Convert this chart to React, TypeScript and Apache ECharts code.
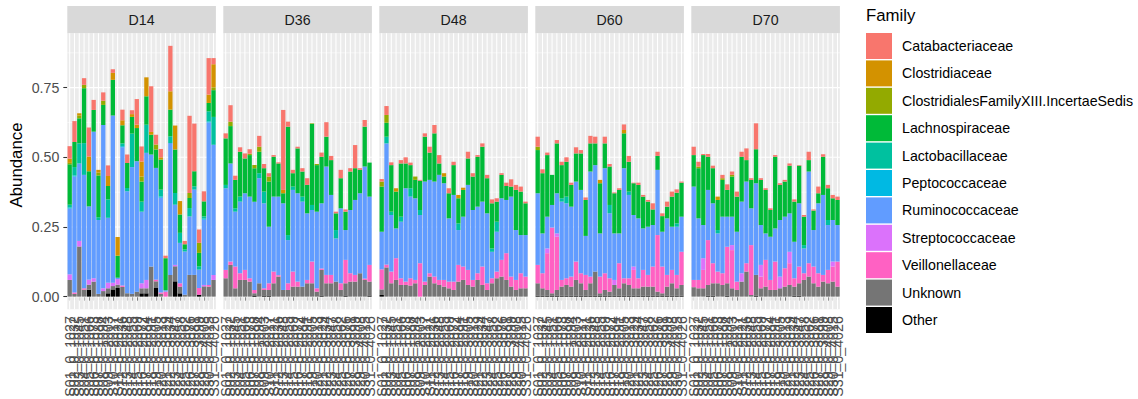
import React, { useEffect, useRef } from "react";
import * as echarts from "echarts";

// Sampling days (one facet each) and the sample ids shared on every facet's x axis
const days = ["D14", "D36", "D48", "D60", "D70"];
const samples = [
  "S01_0_1027", "S02_0_1032", "S03_0_1045", "S04_0_1051", "S05_0_1066",
  "S06_0_1073", "S07_0_1088", "S08_0_1094", "S09_0_2003", "S10_0_2017",
  "S11_0_2021", "S12_0_2036", "S13_0_2048", "S14_0_2055", "S15_0_2069",
  "S16_0_2072", "S17_0_2084", "S18_0_2091", "S19_0_3005", "S20_0_3013",
  "S21_0_3029", "S22_0_3034", "S23_0_3047", "S24_0_3058", "S25_0_3062",
  "S26_0_3076", "S27_0_3081", "S28_0_3099", "S29_0_4008", "S30_0_4015",
  "S31_0_4026",
];

// Legend order (top to bottom); stacking is the reverse (Other at the bottom)
const families = [
  "Catabacteriaceae",
  "Clostridiaceae",
  "ClostridialesFamilyXIII.IncertaeSedis",
  "Lachnospiraceae",
  "Lactobacillaceae",
  "Peptococcaceae",
  "Ruminococcaceae",
  "Streptococcaceae",
  "Veillonellaceae",
  "Unknown",
  "Other",
];
const familyColors = [
  "#F8766D", "#D39200", "#93AA00", "#00BA38", "#00C19F", "#00B9E3",
  "#619CFF", "#DB72FB", "#FF61C3", "#757575", "#000000",
];

// Relative abundance, one row per day (D14, D36, D48, D60, D70), 31 samples per row
const catabacteriaceae = [
  [.045, .075, 0, .024, .104, .036, 0, .03, .038, .013, 0, .038, .03, .014, .092, .054, 0, .164, .035, .03, .009, .163, 0, 0, .012, .277, .171, .048, .036, .131, .022],
  [.018, .059, .015, .016, .018, .016, 0, .039, .015, .012, .006, .004, .287, .018, .012, .006, .012, .024, 0, 0, .015, .052, .015, .006, .03, .008, .012, .083, .006, .024, 0],
  [.009, .032, .01, 0, .012, .022, .009, 0, .003, .012, .021, .03, .03, 0, .018, .012, 0, 0, .024, .012, .006, .012, .012, .014, .012, .006, .012, .026, .018, .018, .006],
  [.036, .014, .009, 0, .012, .012, .016, .008, .022, .012, .009, .027, .024, 0, .024, .009, .003, .006, .02, .021, .002, .008, .006, .006, .022, .015, .01, .018, .018, .012, .004],
  [.03, .017, .004, .01, .009, 0, .012, .02, .012, .018, .018, .042, .006, .093, .006, .006, .006, .006, .006, .006, .008, .008, .002, .006, .03, .004, .024, .009, .012, .012, .012],
];
const clostridiaceae = [
  [.015, 0, .008, 0, .053, 0, .01, 0, .036, .025, .067, .018, 0, .01, .012, .054, .068, .01, 0, .008, 0, .066, .086, .048, 0, 0, 0, 0, 0, .03, .083],
  [0, 0, 0, 0, 0, 0, 0, 0, 0, 0, 0, 0, .012, 0, 0, 0, 0, 0, 0, 0, 0, 0, 0, 0, 0, 0, 0, 0, 0, 0, 0],
  [0, 0, 0, .012, 0, 0, 0, 0, 0, 0, 0, 0, 0, .012, 0, 0, .012, .008, 0, 0, 0, 0, 0, 0, 0, 0, 0, 0, 0, 0, 0],
  [0, 0, 0, 0, 0, 0, 0, 0, 0, 0, 0, 0, 0, .012, 0, 0, 0, 0, .012, 0, 0, 0, 0, 0, 0, 0, 0, 0, 0, 0, 0],
  [0, 0, 0, 0, 0, .012, 0, 0, 0, 0, 0, 0, 0, 0, 0, 0, 0, 0, 0, 0, 0, 0, 0, 0, 0, 0, 0, 0, 0, 0, 0],
];
const clostridialesXIII = [
  [.005, 0, .01, .012, 0, 0, .01, .015, 0, 0, 0, 0, 0, 0, 0, .018, 0, 0, .018, 0, 0, 0, 0, 0, 0, .018, 0, .036, 0, 0, .01],
  [0, .016, 0, 0, 0, .005, .011, .018, 0, .018, 0, 0, 0, 0, 0, 0, 0, 0, .002, .004, 0, 0, 0, 0, 0, 0, 0, 0, 0, 0, 0],
  [.018, .028, 0, 0, 0, 0, 0, .012, 0, 0, 0, 0, 0, 0, 0, 0, 0, 0, 0, 0, 0, 0, 0, 0, 0, 0, 0, 0, 0, 0, 0],
  [.012, 0, 0, 0, 0, 0, 0, 0, 0, 0, 0, 0, 0, 0, 0, 0, 0, 0, 0, 0, 0, 0, 0, 0, 0, 0, 0, 0, 0, 0, 0],
  [0, .006, 0, 0, 0, 0, .006, 0, .006, 0, 0, 0, 0, 0, 0, 0, 0, 0, 0, 0, 0, 0, 0, 0, 0, 0, 0, 0, 0, 0, 0],
];
const lachnospiraceae = [
  [.145, .09, .09, .197, .126, .078, .15, .072, .048, .128, .079, .065, .09, .06, .119, .072, .102, .071, .066, .108, .115, .096, .156, .066, .018, .036, .054, .048, .054, .03, .096],
  [.167, .134, .102, .161, .125, .149, .12, .077, .084, .162, .143, .119, .036, .389, .048, .161, .09, .102, .291, .167, .167, .107, .125, .06, .108, .066, .138, .114, .084, .143, .122],
  [.162, .05, .167, .132, .191, .089, .083, .066, .105, .161, .098, .173, .041, .024, .09, .107, .09, .096, .095, .12, .179, .197, .126, .162, .072, .084, .05, .036, .144, .156, .114],
  [.155, .216, .221, .108, .179, .119, .125, .078, .101, .131, .129, .101, .078, .18, .089, .138, .144, .156, .125, .107, .114, .12, .114, .09, .056, .05, .056, .042, .108, .11, .122],
  [.113, .18, .251, .119, .126, .108, .132, .096, .144, .126, .161, .077, .102, .122, .162, .156, .096, .257, .126, .126, .171, .144, .135, .102, .041, .07, .036, .137, .114, .078, .09],
];
const lactobacillaceae = [
  [.01, .03, .072, .114, 0, 0, .01, 0, .066, 0, 0, .01, .012, .12, 0, .036, .101, 0, 0, .024, 0, .024, .042, .036, .008, .03, .012, .012, .008, .036, .1],
  [.012, 0, .012, .018, 0, 0, 0, .018, .042, 0, 0, 0, 0, .018, .012, 0, .018, 0, .018, 0, 0, 0, 0, .03, 0, 0, 0, 0, 0, 0, 0],
  [0, .024, .012, 0, .018, 0, .03, 0, .018, 0, 0, 0, 0, 0, 0, 0, .024, 0, 0, 0, 0, 0, 0, .012, .036, 0, 0, 0, 0, 0, 0],
  [0, 0, 0, 0, 0, .012, .024, 0, 0, 0, 0, 0, 0, 0, 0, .03, 0, 0, 0, .012, 0, 0, 0, 0, 0, 0, 0, 0, 0, .012, 0],
  [0, 0, 0, 0, 0, .012, 0, 0, 0, 0, 0, 0, 0, 0, 0, 0, 0, 0, 0, 0, 0, 0, 0, .012, 0, 0, 0, 0, .018, 0, 0],
];
const peptococcaceae = [
  [.004, .004, 0, 0, 0, 0, 0, 0, 0, 0, 0, .004, 0, 0, 0, 0, 0, 0, 0, .005, 0, 0, 0, 0, 0, 0, 0, 0, .004, .004, 0],
  [0, 0, 0, 0, 0, 0, 0, 0, 0, 0, 0, 0, 0, 0, 0, 0, 0, 0, 0, 0, 0, 0, 0, 0, 0, 0, 0, 0, 0, 0, 0],
  [0, 0, 0, 0, 0, 0, 0, 0, 0, 0, 0, 0, 0, 0, 0, 0, 0, 0, 0, 0, 0, 0, 0, 0, 0, 0, 0, 0, 0, 0, 0],
  [0, 0, 0, 0, 0, 0, 0, 0, 0, 0, 0, 0, 0, 0, 0, 0, 0, 0, 0, 0, 0, 0, 0, 0, 0, 0, 0, 0, 0, 0, 0],
  [0, 0, 0, 0, 0, 0, 0, 0, 0, 0, 0, 0, 0, 0, 0, 0, 0, 0, 0, 0, 0, 0, 0, 0, 0, 0, 0, 0, 0, 0, 0],
];
const ruminococcaceae = [
  [.236, .416, .278, .407, .263, .526, .265, .586, .233, .6, .005, .496, .366, .455, .468, .257, .456, .402, .401, .34, .005, .473, .216, .145, .155, .21, .306, .066, .234, .583, .467],
  [.293, .352, .197, .257, .275, .293, .317, .377, .305, .203, .269, .282, .311, .155, .293, .317, .305, .239, .185, .275, .234, .389, .287, .155, .269, .107, .227, .269, .287, .402, .245],
  [.135, .435, .203, .107, .203, .335, .293, .293, .173, .359, .335, .341, .377, .347, .227, .311, .125, .179, .305, .251, .239, .233, .251, .095, .143, .221, .191, .287, .179, .137, .149],
  [.257, .143, .114, .081, .144, .281, .269, .251, .287, .299, .14, .377, .382, .155, .377, .233, .167, .107, .395, .299, .185, .215, .149, .173, .149, .234, .125, .203, .155, .173, .126],
  [.335, .221, .119, .18, .215, .137, .203, .108, .102, .179, .257, .293, .132, .329, .143, .095, .155, .119, .203, .185, .138, .131, .227, .089, .329, .131, .251, .287, .161, .149, .131],
];
const streptococcaceae = [
  [.02, 0, .02, 0, .018, .012, 0, .01, .02, .012, .02, 0, 0, 0, 0, .018, .03, 0, 0, 0, 0, 0, .005, 0, 0, 0, 0, 0, .005, 0, .018],
  [0, 0, 0, 0, 0, 0, 0, 0, 0, 0, 0, 0, 0, 0, 0, 0, 0, 0, 0, 0, 0, 0, 0, 0, 0, 0, 0, 0, 0, 0, 0],
  [0, 0, 0, 0, 0, 0, 0, 0, 0, 0, 0, 0, 0, 0, 0, 0, 0, 0, 0, 0, 0, 0, 0, 0, 0, 0, 0, 0, 0, 0, 0],
  [0, 0, .017, 0, .012, 0, 0, 0, 0, 0, 0, 0, 0, 0, 0, 0, .018, 0, 0, 0, .012, 0, 0, 0, 0, 0, 0, 0, 0, 0, 0],
  [0, 0, .042, 0, 0, 0, 0, 0, .018, 0, .03, 0, 0, 0, .042, 0, 0, 0, .042, 0, .041, 0, 0, 0, 0, 0, 0, 0, 0, .018, 0],
];
const veillonellaceae = [
  [0, .005, 0, .005, 0, 0, 0, 0, 0, 0, 0, .005, 0, 0, 0, 0, 0, 0, .006, .005, .018, 0, 0, .012, 0, 0, 0, .024, 0, .006, 0],
  [.03, .012, .078, .024, .036, .012, .012, 0, .006, .024, .042, .005, 0, .024, .054, .018, 0, .012, .078, .012, .005, .03, .03, 0, .024, .084, .03, .024, 0, .005, .06],
  [.072, .01, .042, .078, .024, .012, .026, .012, .12, .012, .012, .024, .018, .024, .024, .03, .06, .048, .054, .024, .024, .066, .024, .018, .024, .06, .096, .036, .036, .054, .042],
  [.066, .054, .132, .236, .191, .024, .024, .036, .066, .036, .054, .024, 0, .06, .06, .048, 0, .09, .018, .024, .066, .036, .06, .042, .072, .203, .096, .042, .048, .048, .119],
  [.026, .03, .066, .161, .072, .042, .042, .131, .137, .03, 0, .03, .179, 0, .042, .096, .036, .102, 0, .066, .078, .03, .06, .024, .048, .06, .048, .024, .048, .054, .09],
];
const unknown = [
  [.06, .01, .18, .025, .018, .054, .01, .02, .018, .012, .012, .035, .012, .01, .018, .018, .018, .108, .024, .01, 0, .078, .054, .024, .007, .078, .078, 0, .037, .036, .06],
  [.066, .114, .03, .06, .06, .054, .008, .048, .02, .02, .048, .072, .024, .024, .036, .036, .036, .048, .048, .018, .092, .048, .048, .054, .024, .044, .054, .054, .084, .06, .05],
  [.02, .105, .048, .06, .042, .042, .04, .048, 0, .042, .072, .048, .042, .036, .03, .024, .054, .06, .042, .036, .06, .042, .024, .048, .066, .072, .06, .036, .024, .03, .03],
  [.045, .027, .021, .009, .021, .033, .039, .033, .057, .045, .021, .045, .087, .009, .021, .015, .039, .027, .045, .039, .027, .027, .033, .033, .033, .015, .009, .033, .045, .027, .039],
  [.034, .03, .03, .039, .045, .048, .042, .045, .03, .024, .054, .09, .006, .075, .03, .036, .024, .024, .03, .036, .042, .033, .045, .06, .072, .048, .036, .054, .048, .054, .036],
];
const other = [
  [0, 0, 0, 0, .025, 0, 0, 0, .012, .026, .031, 0, 0, 0, 0, .012, .012, 0, .031, 0, 0, 0, .055, .012, 0, 0, 0, .007, 0, 0, 0],
  [0, 0, 0, 0, 0, 0, .004, 0, .004, .004, 0, 0, 0, 0, 0, 0, 0, 0, 0, 0, .004, 0, 0, 0, 0, .004, 0, 0, 0, 0, .004],
  [.006, 0, 0, 0, 0, 0, 0, 0, 0, 0, 0, 0, 0, 0, 0, 0, 0, 0, 0, 0, 0, 0, 0, 0, 0, 0, 0, 0, 0, 0, 0],
  [.003, .003, .003, .003, .003, .003, .003, .003, .003, .003, .003, .003, .003, .003, .003, .003, .003, .003, .003, .003, .003, .003, .003, .003, .003, .003, .003, .003, .003, .003, .003],
  [0, 0, 0, .003, .003, 0, 0, .003, 0, 0, 0, 0, 0, .003, 0, 0, 0, 0, 0, 0, 0, .003, .003, 0, 0, 0, 0, 0, 0, 0, 0],
];

// Same order as `families`
const familyValues = [
  catabacteriaceae, clostridiaceae, clostridialesXIII, lachnospiraceae, lactobacillaceae,
  peptococcaceae, ruminococcaceae, streptococcaceae, veillonellaceae, unknown, other,
];

const yBreaks = [0, 0.25, 0.5, 0.75];
const yMinorBreaks = [0.125, 0.375, 0.625, 0.875];
const yMax = 0.945;
const yExpandBelow = 0.045; // panel padding below zero, in data units

// Layout (pixels)
const FONT = "'Liberation Sans', Arial, Helvetica, sans-serif";
const PANEL_X0 = 67.3;
const PANEL_STEP = 156;
const PANEL_W = 148.6;
const PANEL_TOP = 33.3;
const PANEL_H = 275.9;
const PLOT_H = (PANEL_H * yMax) / (yMax + yExpandBelow); // part of the panel above zero
const BELOW_H = PANEL_H - PLOT_H;
const STRIP_TOP = 6;
const STRIP_H = PANEL_TOP - STRIP_TOP;
const PANEL_BG = "#EBEBEB";

function buildOption() {
  const grids: any[] = [];
  const xAxes: any[] = [];
  const yAxes: any[] = [];
  const series: any[] = [];
  const graphics: any[] = [];

  days.forEach((day, k) => {
    const left = PANEL_X0 + k * PANEL_STEP;
    grids.push({
      left,
      top: PANEL_TOP,
      width: PANEL_W,
      height: PLOT_H,
      show: true,
      backgroundColor: PANEL_BG,
      borderWidth: 0,
      containLabel: false,
      outerBoundsMode: "none",
    });
    xAxes.push({
      type: "category",
      gridIndex: k,
      data: samples,
      offset: BELOW_H,
      axisLine: { show: false },
      axisTick: {
        show: true,
        alignWithLabel: true,
        interval: 0,
        length: 4,
        lineStyle: { color: "#333333", width: 1.07 },
      },
      axisLabel: {
        interval: 0,
        rotate: 90,
        margin: 7,
        fontSize: 14.2,
        color: "#4D4D4D",
        fontFamily: FONT,
      },
      splitLine: { show: false },
    });
    if (k === 0) {
      yAxes.push({
        type: "value",
        gridIndex: k,
        min: 0,
        max: yMax,
        name: "Abundance",
        nameLocation: "middle",
        nameRotate: 90,
        nameGap: 42,
        nameTextStyle: { fontSize: 16.8, color: "#000000", fontFamily: FONT },
        axisLine: { show: false },
        axisTick: {
          show: true,
          customValues: yBreaks,
          length: 4,
          lineStyle: { color: "#333333", width: 1.07 },
        },
        axisLabel: {
          customValues: yBreaks,
          margin: 8,
          fontSize: 14.2,
          color: "#4D4D4D",
          fontFamily: FONT,
          formatter: (v: number) => (yBreaks.some((b) => Math.abs(b - v) < 1e-9) ? v.toFixed(2) : ""),
        },
        splitLine: { show: false },
      });
    } else {
      yAxes.push({
        type: "value",
        gridIndex: k,
        min: 0,
        max: yMax,
        show: false,
        splitLine: { show: false },
      });
    }

    // panel padding below zero
    graphics.push({
      type: "rect",
      silent: true,
      z: 0,
      shape: { x: left, y: PANEL_TOP + PLOT_H, width: PANEL_W, height: BELOW_H },
      style: { fill: PANEL_BG },
    });

    // panel grid lines (drawn beneath the bars)
    const gridData: number[][] = [
      ...yBreaks.map((v) => [0, v, 1]),
      ...yMinorBreaks.map((v) => [0, v, 0]),
      ...samples.map((_, i) => [i, 0, 2]),
    ];
    series.push({
      type: "custom",
      name: "panel-grid-" + day,
      xAxisIndex: k,
      yAxisIndex: k,
      z: 1,
      silent: true,
      clip: false,
      data: gridData,
      encode: { x: 0, y: 1 },
      renderItem: (params: any, api: any) => {
        const cs = params.coordSys;
        const kind = api.value(2);
        if (kind === 2) {
          const p = api.coord([api.value(0), 0]);
          return {
            type: "line",
            shape: { x1: p[0], y1: cs.y, x2: p[0], y2: cs.y + cs.height + BELOW_H },
            style: { stroke: "#FFFFFF", lineWidth: 1.07 },
          };
        }
        const p = api.coord([0, api.value(1)]);
        return {
          type: "line",
          shape: { x1: cs.x, y1: p[1], x2: cs.x + cs.width, y2: p[1] },
          style: { stroke: "#FFFFFF", lineWidth: kind === 1 ? 1.07 : 0.53 },
        };
      },
    });

    // stacked bars: bottom of the stack first
    for (let f = families.length - 1; f >= 0; f--) {
      series.push({
        type: "bar",
        name: families[f],
        xAxisIndex: k,
        yAxisIndex: k,
        stack: "abundance-" + day,
        barCategoryGap: "10%",
        z: 2,
        data: familyValues[f][k],
        itemStyle: { color: familyColors[f], borderWidth: 0 },
        emphasis: { disabled: true },
        silent: true,
      });
    }

    // facet strip
    graphics.push({
      type: "rect",
      silent: true,
      shape: { x: left, y: STRIP_TOP, width: PANEL_W, height: STRIP_H },
      style: { fill: "#D9D9D9" },
    });
    graphics.push({
      type: "text",
      silent: true,
      x: left + PANEL_W / 2,
      y: STRIP_TOP + STRIP_H / 2 + 0.5,
      style: {
        text: day,
        fill: "#1A1A1A",
        fontSize: 14.2,
        fontFamily: FONT,
        align: "center",
        verticalAlign: "middle",
      },
    });
  });

  return {
    animation: false,
    backgroundColor: "#FFFFFF",
    title: {
      text: "Family",
      left: 866,
      top: 7,
      padding: 0,
      textStyle: { fontSize: 16.8, fontWeight: "normal", color: "#000000", fontFamily: FONT },
    },
    legend: {
      orient: "vertical",
      left: 866,
      top: 33,
      padding: 0,
      itemWidth: 26,
      itemHeight: 26,
      itemGap: 1.4,
      icon: "rect",
      selectedMode: false,
      data: families.map((name, i) => ({ name, itemStyle: { color: familyColors[i] } })),
      textStyle: { fontSize: 14.2, color: "#000000", fontFamily: FONT, padding: [0, 0, 0, 5] },
    },
    grid: grids,
    xAxis: xAxes,
    yAxis: yAxes,
    series,
    graphic: graphics,
  };
}

export default function App() {
  const ref = useRef<HTMLDivElement>(null);
  useEffect(() => {
    if (!ref.current) return;
    const chart = echarts.init(ref.current, undefined, { renderer: "svg" });
    chart.setOption(buildOption() as any);
    return () => {
      chart.dispose();
    };
  }, []);
  return (
    <div
      ref={ref}
      style={{ position: "absolute", left: 0, top: 0, width: 1138, height: 399, background: "#FFFFFF" }}
    />
  );
}
